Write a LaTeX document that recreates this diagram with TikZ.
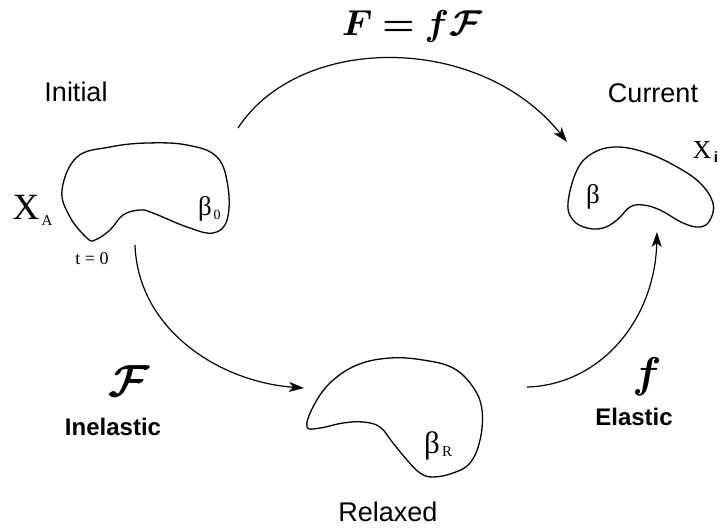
\documentclass[tikz,border=0pt]{standalone}
\usepackage{amsmath,bm}
\usepackage{fontspec}
\setmainfont{Liberation Sans}
\newfontfamily\serifgr{Liberation Serif}
\usetikzlibrary{arrows.meta}
\begin{document}
\begin{tikzpicture}[x=1pt,y=-1pt,
  blob/.style={line width=1.3pt, line join=round, tension=0.65},
  conn/.style={line width=1.2pt, -{Stealth[length=15pt,width=10pt,inset=4pt]}},
  lab/.style={font=\fontsize{27}{30}\selectfont, inner sep=0pt},
  blab/.style={font=\fontsize{24}{28}\selectfont\bfseries, inner sep=0pt},
  sym/.style={font=\fontsize{27}{30}\selectfont\serifgr, inner sep=0pt},
  mathlab/.style={inner sep=0pt}]
\useasboundingbox (0,0) rectangle (722,531);

% shapes
\draw[blob] plot[smooth cycle] coordinates {(62,190) (77,157) (110,147) (147,143) (187,145) (217,157) (228,187) (227,220) (213,233) (187,227) (153,213) (140,210) (123,215) (110,230) (95,240) (87,238) (70,217)};
\draw[blob] plot[smooth cycle] coordinates {(568,203) (577,170) (593,153) (617,147) (647,153) (677,167) (700,183) (713,203) (710,220) (700,227) (683,223) (660,210) (643,205) (630,207) (617,220) (603,228) (587,228) (573,220)};
\draw[blob] plot[smooth cycle] coordinates {(307,427) (313,407) (330,383) (357,365) (390,358) (423,360) (453,368) (473,387) (482,410) (480,440) (470,463) (453,473) (433,477) (420,473) (407,460) (393,443) (380,427) (363,422) (343,423) (320,428)};

% connector ends
\coordinate (topS) at (238,128);
\coordinate (topE) at (567,142);
\coordinate (inS) at (135,245);
\coordinate (inE) at (304,388);
\coordinate (elS) at (527,387);
\coordinate (elE) at (657,232);

\draw[conn] (topS) .. controls (300,33) and (480,33) .. (topE);
\draw[conn] (inS) .. controls (138,330) and (220,382) .. (inE);
\draw[conn] (elS) .. controls (600,385) and (655,320) .. (elE);

% labels
\node[mathlab, scale=3.6] (eq) at (412,26) {$\bm{F = f\mathcal{F}}$};
\node[lab] (initial) at (76,92) {Initial};
\node[lab] (current) at (653,93) {Current};
\node[lab] (relaxed) at (388,512) {Relaxed};
\node[mathlab, scale=4.5] (calF) at (129,381) {$\bm{\mathcal{F}}$};
\node[blab] (inel) at (113,427) {Inelastic};
\node[mathlab, scale=4.3] (smallf) at (647,377) {$\bm{f}$};
\node[blab] (el) at (634,417) {Elastic};

\node[font=\fontsize{37}{40}\selectfont\serifgr, inner sep=0pt] (XA) at (26,207) {X};
\node[font=\fontsize{15}{16}\selectfont\serifgr, inner sep=0pt] (XAsub) at (47,221) {A};
\node[sym] (b0) at (205,209) {β};
\node[font=\fontsize{14}{15}\selectfont\serifgr, inner sep=0pt] (b0sub) at (217,215) {0};
\node[font=\fontsize{18}{20}\selectfont\serifgr, inner sep=0pt] (t0) at (92,259) {t = 0};
\node[sym] (bc) at (593,197) {β};
\node[font=\fontsize{26}{28}\selectfont\serifgr, inner sep=0pt] (Xi) at (702,150) {X};
\node[font=\fontsize{15}{16}\selectfont\bfseries, inner sep=0pt] (Xisub) at (716,157) {i};
\node[font=\fontsize{31}{34}\selectfont\serifgr, inner sep=0pt] (bR) at (432,446) {β};
\node[font=\fontsize{15}{16}\selectfont\serifgr, inner sep=0pt] (bRsub) at (447,452) {R};
\end{tikzpicture}
\end{document}
